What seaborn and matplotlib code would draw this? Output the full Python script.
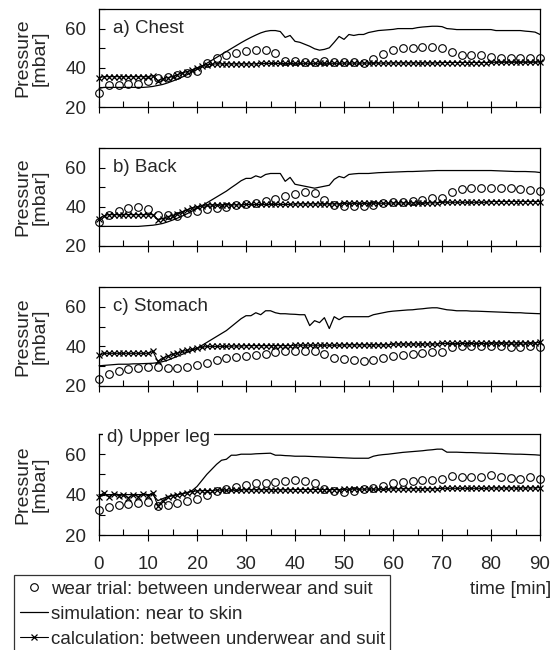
import matplotlib
matplotlib.use("Agg")
import matplotlib.pyplot as plt
from matplotlib.lines import Line2D
from matplotlib.ticker import MultipleLocator
import seaborn as sns

sns.set_theme(style="ticks")
plt.rcParams['font.family'] = ['Liberation Sans', 'DejaVu Sans']
plt.rcParams['font.size'] = 13.5

# wear trial sampled every 2 min, simulation / calculation every 1 min
t_wear = list(range(0, 91, 2))
t_model = list(range(0, 91))

panel_titles = ['a) Chest', 'b) Back', 'c) Stomach', 'd) Upper leg']

wear_chest = [27, 31, 31, 31.5, 31.5, 33.5, 35, 35.5, 36.5, 37.5,
              38.5, 42.5, 45, 46.5, 47.5, 48.5, 49, 49, 47.5, 43.5,
              43.5, 43, 43, 43.5, 43, 43, 43, 42.5, 44.5, 47,
              49, 50, 50, 50.5, 50.5, 50, 48, 46.5, 46.5, 46.5,
              45.5, 45, 45, 45, 45, 45]
sim_chest = [29.5, 30, 30, 30, 30, 30, 30, 30, 30, 30,
             30.2, 30.5, 31, 31.5, 32.3, 33.2, 34.2, 35.3, 36.5, 37.8,
             39.2, 40.8, 42.3, 43.8, 45.3, 46.8, 48.3, 49.8, 51.3, 52.8,
             54.2, 55.5, 56.7, 57.8, 58.6, 59, 59, 58.5, 55.5, 56.5,
             53.5, 53, 52, 51, 49.7, 49, 49.4, 50.2, 53, 56,
             54.5, 57, 56.5, 57, 57, 58, 58.5, 59, 59.2, 59.4,
             59.6, 60, 60, 60, 60, 60.5, 60.8, 61, 61.2, 61.2,
             61, 60, 59.8, 59.5, 59.5, 59.5, 59.5, 59.5, 59.5, 59.5,
             59.5, 59, 59, 59, 59, 59, 59, 58.7, 58.5, 58.2,
             57]
calc_chest = [35, 35.5, 35.5, 35.5, 35.5, 35.5, 35.5, 35.5, 35.5, 35.5,
              35.5, 36, 33.5, 34.5, 35, 35.5, 36.5, 37.5, 38, 39,
              40, 41, 41.5, 41.8, 42, 42, 42, 42, 42, 42,
              42, 42, 42, 42.2, 42.2, 42.2, 42.2, 42.2, 42.2, 42.2,
              42.3, 42.3, 42.3, 42.3, 42.3, 42.3, 42.3, 42.3, 42.3, 42.3,
              42.4, 42.4, 42.4, 42.4, 42.4, 42.4, 42.4, 42.4, 42.4, 42.4,
              42.5, 42.5, 42.5, 42.5, 42.5, 42.5, 42.5, 42.5, 42.5, 42.5,
              42.7, 42.7, 42.7, 42.7, 42.7, 42.7, 42.7, 42.7, 42.7, 42.7,
              42.8, 42.8, 42.8, 42.8, 42.8, 42.8, 42.8, 42.8, 42.8, 42.8,
              43]

wear_back = [32, 36, 38, 39.5, 40, 39, 36, 36, 35.5, 37,
             38, 39, 39.5, 40, 41, 41.5, 42, 43, 44, 45.5,
             46.5, 47.5, 47, 43.5, 41, 40.5, 40.5, 40.5, 41, 42,
             42.5, 42.5, 43, 43.5, 44.5, 44.5, 47.5, 49, 49.5, 49.5,
             49.5, 49.5, 49.5, 49, 48.5, 48]
sim_back = [30, 30, 30, 30, 30, 30, 30, 30, 30, 30.2,
            30.4, 30.6, 31, 31.5, 32.3, 33.2, 34.2, 35.3, 36.5, 37.8,
            39.2, 40.6, 42, 43.5, 45, 46.5, 48, 49.8, 51.5, 53.3,
            54.5, 54.5, 55.8, 55, 56.5, 57, 57, 57, 53, 55,
            51.5, 51, 50.5, 50, 49.5, 50, 50.5, 51, 54, 55.5,
            54.8, 56.5, 56.8, 57, 57, 57, 57.2, 57.4, 57.5, 57.6,
            57.7, 57.8, 57.9, 58, 58, 58.1, 58.2, 58.3, 58.4, 58.5,
            58.5, 58.5, 58.5, 58.5, 58.5, 58.5, 58.5, 58.5, 58.5, 58.5,
            58.5, 58.4, 58.3, 58.2, 58.1, 58, 58, 58, 57.9, 57.8,
            57.5]
calc_back = [34, 35.5, 36, 36, 36, 36, 36, 36, 36, 36,
             36, 36, 33.5, 34, 35, 35.5, 36.5, 37.5, 38.5, 39.5,
             40, 40.5, 41, 41, 41, 41, 41, 41, 41, 41,
             41.2, 41.2, 41.2, 41.2, 41.2, 41.2, 41.2, 41.2, 41.2, 41.2,
             41.5, 41.5, 41.5, 41.5, 41.5, 41.5, 41.5, 41.5, 41.5, 41.5,
             41.8, 41.8, 41.8, 41.8, 41.8, 41.8, 41.8, 41.8, 41.8, 41.8,
             42, 42, 42, 42, 42, 42, 42, 42, 42, 42,
             42.3, 42.3, 42.3, 42.3, 42.3, 42.3, 42.3, 42.3, 42.3, 42.3,
             42.7, 42.7, 42.7, 42.7, 42.7, 42.7, 42.7, 42.7, 42.7, 42.7,
             42.7]

wear_stomach = [23.5, 26, 27.5, 28.5, 29, 29.5, 29.5, 29, 29, 29.5,
                30.5, 31.5, 33, 34, 34.5, 35, 35.5, 36, 37, 37.5,
                37.5, 37.5, 37.5, 36, 34, 33.5, 33, 32.5, 33, 34,
                35, 35.5, 36, 36.5, 37, 37, 39.5, 40, 40, 40,
                40, 40, 39.5, 39.5, 40, 39.5]
sim_stomach = [30.2, 30.4, 30.6, 30.8, 31, 31, 31, 31.2, 31.2, 31.3,
               31.4, 31.5, 31.8, 32.3, 33, 34, 35, 36, 37, 38,
               39, 40.5, 42, 43.5, 45, 46.5, 48, 50, 52, 54,
               55.5, 55.5, 57, 56, 58, 58, 57, 56.5, 56.5, 56.3,
               56.2, 56, 56, 50.5, 53, 52, 54.5, 49, 55, 53.5,
               55, 55, 55, 55, 55, 55, 56, 56.5, 57, 57.5,
               57.8, 58, 58.2, 58.4, 58.5, 58.8, 59, 59.3, 59.5, 59.5,
               59, 58.5, 58.3, 58, 58, 58, 57.8, 57.8, 57.7, 57.6,
               57.5, 57.4, 57.3, 57.2, 57.1, 57, 57, 56.8, 56.7, 56.6,
               56.5]
calc_stomach = [35.5, 36.5, 36.5, 36.5, 36.5, 36.5, 36.5, 36.5, 36.5, 36.5,
                36.5, 37.5, 32.5, 34, 35, 36, 36.5, 37.5, 38, 38.5,
                39, 39.5, 40, 40, 40, 40, 40, 40.2, 40.2, 40.2,
                40.4, 40.4, 40.4, 40.4, 40.4, 40.4, 40.4, 40.4, 40.4, 40.4,
                40.6, 40.6, 40.6, 40.6, 40.6, 40.6, 40.6, 40.6, 40.6, 40.6,
                40.8, 40.8, 40.8, 40.8, 40.8, 40.8, 40.8, 40.8, 40.8, 40.8,
                41.2, 41.2, 41.2, 41.2, 41.2, 41.2, 41.2, 41.2, 41.2, 41.2,
                41.5, 41.5, 41.5, 41.5, 41.5, 41.5, 41.5, 41.5, 41.5, 41.5,
                41.8, 41.8, 41.8, 41.8, 41.8, 41.8, 41.8, 41.8, 41.8, 41.8,
                42]

wear_leg = [32.5, 34, 35, 35.5, 36, 36.5, 34.5, 35, 36, 37,
            38, 40, 42, 43, 44, 45, 45.5, 45.5, 46, 46.5,
            47, 46.5, 45.5, 43, 42, 41.5, 42, 43, 43.5, 44.5,
            45.5, 46, 46.5, 47, 47, 47.5, 49, 48.5, 48.5, 48.5,
            49.5, 48.5, 48, 47.5, 48.5, 47.5]
sim_leg = [40, 40, 40, 40, 40, 40, 40, 40, 40, 40,
           40, 40, 37, 38, 39, 39.5, 40, 40.5, 41, 42,
           44, 47, 50, 52.5, 55, 57, 57.5, 59.5, 59.5, 60,
           60, 60, 60.2, 60.3, 60.4, 60.5, 59.5, 59.5, 59.3, 59.2,
           59, 59, 59, 58.9, 58.8, 58.7, 58.6, 58.5, 58.4, 58.3,
           58.2, 58.1, 58, 58, 58, 58, 59, 59.5, 59.8, 60,
           60.3, 60.6, 60.9, 61.1, 61.3, 61.5, 61.7, 62, 62.2, 62.5,
           62.5, 61, 61, 61, 60.9, 60.8, 60.8, 60.7, 60.6, 60.5,
           60.5, 60.4, 60.3, 60.2, 60.1, 60, 60, 59.9, 59.8, 59.7,
           59.5]
calc_leg = [39, 41, 39, 40.5, 39.5, 40, 38.5, 40, 39, 40.5,
            39.5, 41, 34.5, 37, 39, 39.5, 40, 40.5, 41, 41.5,
            41.8, 42, 42, 42, 42.2, 42.2, 42.2, 42.2, 42.3, 42.3,
            42.4, 42.4, 42.4, 42.4, 42.4, 42.4, 42.4, 42.4, 42.4, 42.4,
            42.5, 42.5, 42.5, 42.5, 42.5, 42.5, 42.5, 42.5, 42.5, 42.5,
            42.7, 42.7, 42.7, 42.7, 42.7, 42.7, 42.7, 42.7, 42.7, 42.7,
            42.9, 42.9, 42.9, 42.9, 42.9, 42.9, 42.9, 42.9, 42.9, 42.9,
            43.1, 43.1, 43.1, 43.1, 43.1, 43.1, 43.1, 43.1, 43.1, 43.1,
            43.3, 43.3, 43.3, 43.3, 43.3, 43.3, 43.3, 43.3, 43.3, 43.3,
            43.5]

wear_all = [wear_chest, wear_back, wear_stomach, wear_leg]
sim_all = [sim_chest, sim_back, sim_stomach, sim_leg]
calc_all = [calc_chest, calc_back, calc_stomach, calc_leg]

# axes boxes in pixels (top, bottom) for a 553x650 canvas
W, H = 553, 650
boxes = [(9, 107), (148, 246), (287, 386), (434, 535)]
left, right = 99, 540

fig = plt.figure(figsize=(W / 100, H / 100), dpi=100)

for i, (top, bottom) in enumerate(boxes):
    ax = fig.add_axes([left / W, 1 - bottom / H, (right - left) / W, (bottom - top) / H])
    ax.set_facecolor('white')

    sns.lineplot(x=t_model, y=sim_all[i], ax=ax, color='black', lw=0.9, clip_on=False)
    sns.lineplot(x=t_model, y=calc_all[i], ax=ax, color='black', lw=0.8,
                 marker='x', markersize=4.5, markeredgewidth=0.9,
                 markeredgecolor='black', clip_on=False)
    sns.lineplot(x=t_wear, y=wear_all[i], ax=ax, color='black', linestyle='',
                 marker='o', markersize=5.5, markerfacecolor='none',
                 markeredgecolor='black', markeredgewidth=0.8, clip_on=False)

    ax.set_xlim(0, 90)
    ax.set_ylim(20, 70)
    ax.set_yticks([20, 40, 60])
    ax.yaxis.set_minor_locator(MultipleLocator(10))
    ax.set_xticks(range(0, 91, 10))
    ax.xaxis.set_minor_locator(MultipleLocator(5))
    ax.tick_params(axis='y', which='both', direction='in', length=4.5, width=0.8,
                   color='black', labelsize=13.5, pad=9)
    ax.tick_params(axis='x', which='major', direction='inout', length=8, width=0.8,
                   color='black', labelsize=13.5, pad=11)
    ax.tick_params(axis='x', which='minor', direction='in', length=4, width=0.8, color='black')
    if i < 3:
        ax.tick_params(axis='x', labelbottom=False)
    for sp in ax.spines.values():
        sp.set_color('black')
        sp.set_linewidth(0.9)

    ax.set_xlabel('')
    ax.set_ylabel('Pressure\n[mbar]', fontsize=14, va='center', linespacing=0.95)
    ax.yaxis.set_label_coords(-0.153, 0.5)

    if i < 3:
        ax.text(0.032, 60, panel_titles[i], transform=ax.get_yaxis_transform(),
                ha='left', va='center', fontsize=13.5)
    else:
        ax.text(0.018, 68.3, panel_titles[i], transform=ax.get_yaxis_transform(),
                ha='left', va='center', fontsize=13.5, zorder=5,
                bbox=dict(facecolor='white', edgecolor='none', pad=2.5))

fig.text(551 / W, 1 - 590 / H, 'time [min]', ha='right', va='center', fontsize=13.5)

handles = [
    Line2D([], [], ls='', marker='o', markersize=5.5, markerfacecolor='none',
           markeredgecolor='black', markeredgewidth=0.8),
    Line2D([], [], color='black', lw=0.9),
    Line2D([], [], color='black', lw=0.8, marker='x', markersize=4.5,
           markeredgewidth=0.9),
]
labels = ['wear trial: between underwear and suit',
          'simulation: near to skin',
          'calculation: between underwear and suit']
leg = fig.legend(handles, labels, loc='upper left', bbox_to_anchor=(14 / W, 1 - 575 / H),
                 frameon=True, fancybox=False, edgecolor='black', fontsize=13.5,
                 handlelength=1.5, handletextpad=0.15, borderpad=0.3,
                 labelspacing=0.42, borderaxespad=0, numpoints=1)
leg.get_frame().set_linewidth(0.9)

fig.savefig('out.png', dpi=100, facecolor='white')
